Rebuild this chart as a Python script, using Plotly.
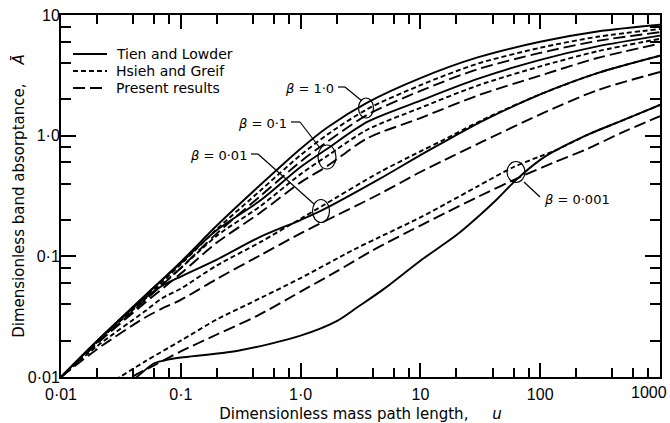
import plotly.graph_objects as go

# ---------------- data ----------------
# beta = 1.0, 0.1 share these mass path lengths
u_top = [0.01, 0.02, 0.05, 0.1, 0.2, 0.46, 1.0, 1.67, 3.6, 10, 30, 100, 300, 1000]
b1_tien  = [0.01, 0.0199, 0.047, 0.090, 0.180, 0.39, 0.78, 1.17, 1.88, 3.00, 4.45, 6.00, 7.30, 8.30]
b1_hsieh = [0.01, 0.0195, 0.045, 0.086, 0.168, 0.35, 0.69, 1.02, 1.66, 2.62, 3.95, 5.35, 6.60, 7.65]
b1_pres  = [0.01, 0.0190, 0.043, 0.080, 0.155, 0.315, 0.61, 0.89, 1.49, 2.35, 3.55, 4.85, 6.10, 7.20]

b01_tien  = [0.01, 0.0199, 0.047, 0.088, 0.165, 0.29, 0.55, 0.78, 1.30, 1.95, 2.95, 4.25, 5.50, 6.75]
b01_hsieh = [0.01, 0.0195, 0.044, 0.080, 0.148, 0.26, 0.48, 0.68, 1.12, 1.70, 2.60, 3.75, 5.00, 6.35]
b01_pres  = [0.01, 0.0190, 0.041, 0.072, 0.130, 0.23, 0.41, 0.56, 0.95, 1.40, 2.15, 3.15, 4.40, 5.80]

# beta = 0.01
u_b001 = [0.01, 0.02, 0.05, 0.07, 0.1, 0.2, 0.46, 1.0, 1.5, 4.6, 10, 15.5, 33.5, 100, 300, 1000]
b001_tien  = [0.01, 0.0198, 0.045, 0.057, 0.068, 0.094, 0.145, 0.20, 0.24, 0.44, 0.69, 0.88, 1.33, 2.20, 3.30, 4.60]
b001_hsieh = [0.01, 0.0180, 0.035, 0.045, 0.054, 0.084, 0.131, 0.205, 0.26, 0.50, 0.74, 0.92, 1.36, 2.20, 3.30, 4.60]
b001_pres  = [0.01, 0.0170, 0.031, 0.037, 0.0436, 0.065, 0.102, 0.155, 0.19, 0.33, 0.50, 0.62, 0.90, 1.50, 2.38, 3.37]

# beta = 0.001
u_b0001_tien = [0.035, 0.043, 0.06, 0.08, 0.1, 0.3, 1.0, 2.0, 3.0, 5.0, 10, 20, 33, 44, 63, 100, 130, 250, 470, 1000]
b0001_tien   = [0.0085, 0.010, 0.013, 0.014, 0.0145, 0.0165, 0.022, 0.029, 0.038, 0.054, 0.092, 0.15, 0.23, 0.30, 0.43, 0.63, 0.74, 1.02, 1.32, 1.80]
u_b0001_hsieh = [0.025, 0.031, 0.05, 0.1, 0.2, 0.38, 1.0, 2.75, 4.6, 10, 16.8, 30, 60, 100, 130, 250, 470, 1000]
b0001_hsieh   = [0.0088, 0.010, 0.0134, 0.020, 0.030, 0.041, 0.066, 0.113, 0.145, 0.21, 0.277, 0.38, 0.55, 0.675, 0.745, 1.02, 1.32, 1.80]
u_b0001_pres = [0.03, 0.039, 0.06, 0.1, 0.2, 0.43, 1.0, 2.0, 4.0, 10, 16.8, 30, 70, 130, 250, 470, 1000]
b0001_pres   = [0.0085, 0.010, 0.0125, 0.0163, 0.0225, 0.032, 0.051, 0.075, 0.112, 0.18, 0.233, 0.31, 0.46, 0.60, 0.78, 1.05, 1.45]

x_tickvals = [0.01, 0.1, 1, 10, 100, 1000]
x_ticktext = ["0·01", "0·1", "1·0", "10", "100", ""]   # "1000" is placed as an annotation (kept inside the page)
x_last_label = "1000"
y_tickvals = [0.01, 0.1, 1, 10]
y_ticktext = ["0·01", "0·1", "1·0", "10"]
minor_mult = [2, 4, 6, 8]

methods = ["Tien and Lowder", "Hsieh and Greif", "Present results"]
dashes = {"Tien and Lowder": "solid",
          "Hsieh and Greif": "5px,3px",
          "Present results": "12px,5px"}

curves = [
    ("Tien and Lowder", u_top, b1_tien), ("Hsieh and Greif", u_top, b1_hsieh), ("Present results", u_top, b1_pres),
    ("Tien and Lowder", u_top, b01_tien), ("Hsieh and Greif", u_top, b01_hsieh), ("Present results", u_top, b01_pres),
    ("Tien and Lowder", u_b001, b001_tien), ("Hsieh and Greif", u_b001, b001_hsieh), ("Present results", u_b001, b001_pres),
    ("Tien and Lowder", u_b0001_tien, b0001_tien), ("Hsieh and Greif", u_b0001_hsieh, b0001_hsieh),
    ("Present results", u_b0001_pres, b0001_pres),
]

fig = go.Figure()
for name, u, a in curves:
    fig.add_trace(go.Scatter(
        x=u, y=a, mode="lines", name=name, legendgroup=name, showlegend=False,
        line=dict(color="black", width=1.9, dash=dashes[name], shape="spline", smoothing=0.8),
    ))

def minor_vals(lo, hi):
    vals = []
    d = lo
    while d < hi:
        vals += [m * d for m in minor_mult]
        d *= 10
    return vals

# invisible helper traces so that the minor-tick overlay axes are drawn
fig.add_trace(go.Scatter(x=[0.01, 1000], y=[0.01, 10], xaxis="x2", yaxis="y",
                         mode="lines", line=dict(width=0), opacity=0,
                         showlegend=False, hoverinfo="skip"))
fig.add_trace(go.Scatter(x=[0.01, 1000], y=[0.01, 10], xaxis="x", yaxis="y2",
                         mode="lines", line=dict(width=0), opacity=0,
                         showlegend=False, hoverinfo="skip"))

TICKFONT = dict(family="Liberation Sans", size=16, color="black")
TITLEFONT = dict(family="DejaVu Sans", size=15, color="black")

common = dict(showgrid=False, zeroline=False, showline=True, linewidth=2,
              linecolor="black", mirror="ticks", ticks="inside", tickcolor="black",
              tickwidth=1.5, automargin=False)

fig.update_layout(
    xaxis=dict(type="log", range=[-2, 3], ticklen=14,
               tickvals=x_tickvals, ticktext=x_ticktext, tickfont=TICKFONT,
               ticklabelstandoff=2,
               title=dict(text="Dimensionless mass path length,\u00a0\u00a0\u00a0\u00a0\u00a0<i>u</i>",
                          font=TITLEFONT, standoff=9), **common),
    yaxis=dict(type="log", range=[-2, 1], ticklen=15,
               tickvals=y_tickvals, ticktext=y_ticktext, tickfont=TICKFONT,
               ticklabelstandoff=-4,
               title=dict(text="Dimensionless band absorptance,\u00a0\u00a0\u00a0\u00a0<i>Ā</i>",
                          font=TITLEFONT, standoff=0), **common),
    xaxis2=dict(type="log", range=[-2, 3], overlaying="x", anchor="y", side="bottom",
                ticklen=9, tickvals=minor_vals(0.01, 1000), showticklabels=False, **common),
    yaxis2=dict(type="log", range=[-2, 1], overlaying="y", anchor="x", side="left",
                ticklen=10, tickvals=minor_vals(0.01, 10), showticklabels=False, **common),
)

# plot-area pixel geometry for annotations (figure 670x423, margins below)
L, R, T, B = 61, 10, 15, 46
W, H = 670 - L - R, 423 - T - B
def px(X):
    return (X - L) / W
def py(Y):
    return (423 - B - Y) / H

# last x tick label, right-aligned to the page edge as in the reference
fig.add_annotation(text=x_last_label, x=px(669), y=py(392), xref="paper", yref="paper",
                   xanchor="right", yanchor="middle", showarrow=False, font=TICKFONT)

# legend (drawn by hand so the row spacing matches)
legend_rows = [54, 71, 88]
for name, Y in zip(methods, legend_rows):
    fig.add_shape(type="line", xref="paper", yref="paper",
                  x0=px(73), x1=px(107), y0=py(Y), y1=py(Y),
                  line=dict(color="black", width=1.9, dash=dashes[name]))
    fig.add_annotation(text=name, x=px(114), y=py(Y), xref="paper", yref="paper",
                       xanchor="left", yanchor="middle", showarrow=False,
                       font=dict(family="DejaVu Sans", size=14, color="black"))

labels = [
    ("<i>β</i> = 1·0", 336, 88, "right"),
    ("<i>β</i> = 0·1", 289, 123, "right"),
    ("<i>β</i> = 0·01", 249, 155, "right"),
    ("<i>β</i> = 0·001", 542, 199, "left"),
]
for text, X, Y, anchor in labels:
    fig.add_annotation(text=text, x=px(X), y=py(Y), xref="paper", yref="paper",
                       xanchor=anchor, yanchor="middle", showarrow=False,
                       font=dict(family="DejaVu Sans", size=13, color="black"))

ellipses = [(366, 108, 7.5, 10), (327, 157, 9, 12), (321, 211, 8.5, 11.5), (516, 172, 9, 10.5)]
for cx, cy, rx, ry in ellipses:
    fig.add_shape(type="circle", xref="paper", yref="paper",
                  x0=px(cx - rx), x1=px(cx + rx), y0=py(cy + ry), y1=py(cy - ry),
                  line=dict(color="black", width=1.2))

leaders = [
    [(338, 87), (345, 87), (362, 101)],
    [(291, 122), (300, 122), (320, 148)],
    [(251, 154), (258, 154), (314, 204)],
    [(540, 197), (524, 182)],
]
for pts in leaders:
    for (x0, y0), (x1, y1) in zip(pts[:-1], pts[1:]):
        fig.add_shape(type="line", xref="paper", yref="paper",
                      x0=px(x0), y0=py(y0), x1=px(x1), y1=py(y1),
                      line=dict(color="black", width=1.2))

fig.update_layout(
    width=670, height=423,
    margin=dict(l=L, r=R, t=T, b=B, autoexpand=False),
    paper_bgcolor="white", plot_bgcolor="white",
    showlegend=False,
)

fig.write_html("out.html", config={"displayModeBar": False},
               post_script="document.body.style.margin='0px';")
